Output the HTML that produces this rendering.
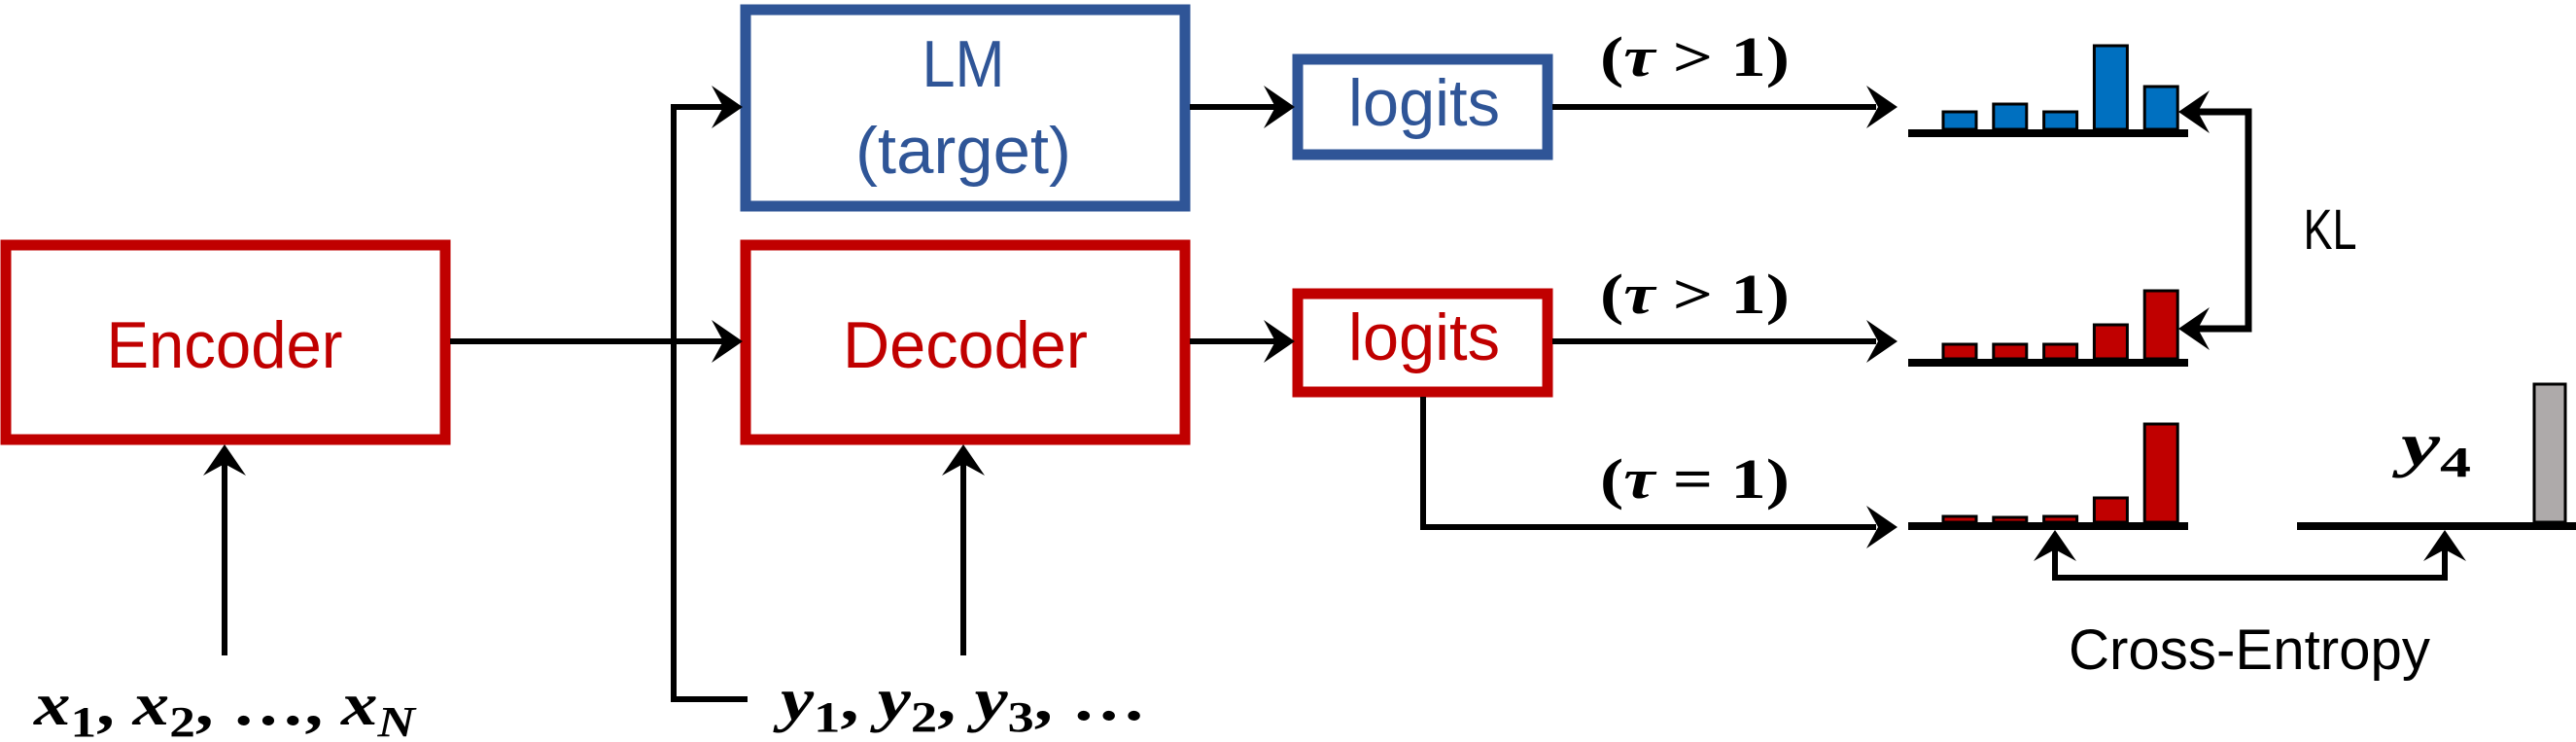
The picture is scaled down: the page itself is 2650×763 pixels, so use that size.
<!DOCTYPE html>
<html><head><meta charset="utf-8"><style>
html,body{margin:0;padding:0;background:#fff;}
svg{display:block;}
.cal{font-family:"Liberation Sans",sans-serif;}
.math{font-family:"Liberation Serif",serif;font-weight:bold;}
.it{font-style:italic;}
</style></head><body>
<svg id="fig" width="2650" height="763" viewBox="0 0 2650 763" xmlns="http://www.w3.org/2000/svg">
<g fill="none" stroke-width="11">
 <rect x="6" y="252" width="452" height="200" stroke="#c00000"/>
 <rect x="767" y="10" width="452" height="202" stroke="#2f5597"/>
 <rect x="767" y="252" width="452" height="200" stroke="#c00000"/>
 <rect x="1335" y="61" width="257" height="98" stroke="#2f5597"/>
 <rect x="1335" y="302" width="257" height="101" stroke="#c00000"/>
</g>
<g class="cal" text-anchor="middle">
 <text x="231" y="378" font-size="68" fill="#c00000" textLength="243" lengthAdjust="spacingAndGlyphs">Encoder</text>
 <text x="993" y="378" font-size="68" fill="#c00000" textLength="252" lengthAdjust="spacingAndGlyphs">Decoder</text>
 <text x="991" y="89" font-size="68" fill="#2f5597" textLength="85" lengthAdjust="spacingAndGlyphs">LM</text>
 <text x="991" y="178" font-size="68" fill="#2f5597" textLength="222" lengthAdjust="spacingAndGlyphs">(target)</text>
 <text x="1465" y="129" font-size="68" fill="#2f5597" textLength="156" lengthAdjust="spacingAndGlyphs">logits</text>
 <text x="1465" y="370" font-size="68" fill="#c00000" textLength="156" lengthAdjust="spacingAndGlyphs">logits</text>
 <text x="2397" y="256" font-size="58" fill="#000" textLength="55" lengthAdjust="spacingAndGlyphs">KL</text>
 <text x="2314" y="688" font-size="58" fill="#000" textLength="372" lengthAdjust="spacingAndGlyphs">Cross-Entropy</text>
</g>
<g class="math" fill="#000">
 <text x="1646" y="78" font-size="58" textLength="195" lengthAdjust="spacingAndGlyphs">(<tspan class="it">τ</tspan> &gt; 1)</text>
 <text x="1646" y="322" font-size="58" textLength="195" lengthAdjust="spacingAndGlyphs">(<tspan class="it">τ</tspan> &gt; 1)</text>
 <text x="1646" y="512" font-size="58" textLength="195" lengthAdjust="spacingAndGlyphs">(<tspan class="it">τ</tspan> = 1)</text>
 <text x="35" y="745" font-size="62" textLength="392" lengthAdjust="spacingAndGlyphs"><tspan class="it">x</tspan><tspan font-size="44" dy="12">1</tspan><tspan dy="-12">, </tspan><tspan class="it">x</tspan><tspan font-size="44" dy="12">2</tspan><tspan dy="-12">, …, </tspan><tspan class="it">x</tspan><tspan class="it" font-size="44" dy="12">N</tspan></text>
 <text x="803" y="740" font-size="62" textLength="376" lengthAdjust="spacingAndGlyphs"><tspan class="it">y</tspan><tspan font-size="44" dy="12">1</tspan><tspan dy="-12">, </tspan><tspan class="it">y</tspan><tspan font-size="44" dy="12">2</tspan><tspan dy="-12">, </tspan><tspan class="it">y</tspan><tspan font-size="44" dy="12">3</tspan><tspan dy="-12">, …</tspan></text>
 <text x="2470" y="478" font-size="62" textLength="72" lengthAdjust="spacingAndGlyphs"><tspan class="it">y</tspan><tspan font-size="44" dy="12">4</tspan></text>
</g>
<g fill="none" stroke="#000" stroke-width="6">
 <path d="M463 351 H745"/>
 <path d="M769 719 H693 V110 H745"/>
 <path d="M231 674 V475"/>
 <path d="M991 674 V475"/>
 <path d="M1224 110 H1312"/>
 <path d="M1224 351 H1312"/>
 <path d="M1597 110 H1930"/>
 <path d="M1597 351 H1930"/>
 <path d="M1464 408 V542 H1930"/>
 <path d="M2114 565 V594 H2515 V565"/>
</g>
<path d="M2258 115 H2313 V338 H2258" fill="none" stroke="#000" stroke-width="7"/>
<g id="arrows" fill="#000"></g>
<g id="charts"></g>
<line x1="2363" y1="541" x2="2650" y2="541" stroke="#000" stroke-width="8"/>
<rect x="2607" y="395" width="32" height="142" fill="#aeaaaa" stroke="#000" stroke-width="3"/>
</svg>
<script>
// Probability values for each distribution (5 vocabulary tokens)
const tokens = ["t1","t2","t3","t4","t5"];
const lmSoft = [18, 26, 18, 86, 44];
const decSoft = [15, 15, 15, 35, 70];
const decHard = [6, 5, 6, 25, 101];
const NS = "http://www.w3.org/2000/svg";
const charts = document.getElementById('charts');
const arrows = document.getElementById('arrows');
function xBar(i){ return 1999 + i * 51.8; }
function yScale(v, base){ return base - v; }
function drawChart(vals, baseY, fill, name){
  const g = document.createElementNS(NS,'g');
  
  
  vals.forEach((v,i)=>{
    const r = document.createElementNS(NS,'rect');
    const bottom = baseY - 4;
    r.setAttribute('x', xBar(i));
    r.setAttribute('y', yScale(v, bottom));
    r.setAttribute('width', 34);
    r.setAttribute('height', v);
    r.setAttribute('fill', fill);
    r.setAttribute('stroke', '#000');
    r.setAttribute('stroke-width', 3);
    
    
    g.appendChild(r);
  });
  const l = document.createElementNS(NS,'line');
  l.setAttribute('x1',1963); l.setAttribute('x2',2251);
  l.setAttribute('y1',baseY); l.setAttribute('y2',baseY);
  l.setAttribute('stroke','#000'); l.setAttribute('stroke-width',8);
  
  
  g.appendChild(l);
  charts.appendChild(g);
}
drawChart(lmSoft, 137, '#0070c0', 'lm-soft-chart');
drawChart(decSoft, 373, '#c00000', 'decoder-soft-chart');
drawChart(decHard, 541, '#c00000', 'decoder-hard-chart');
function arrow(x,y,dir,name){
  const L=32,W=22,N=12;
  let pts;
  if(dir==='r') pts=[[x,y],[x-L,y-W],[x-L+N,y],[x-L,y+W]];
  if(dir==='l') pts=[[x,y],[x+L,y-W],[x+L-N,y],[x+L,y+W]];
  if(dir==='u') pts=[[x,y],[x-W,y+L],[x,y+L-N],[x+W,y+L]];
  const p = document.createElementNS(NS,'polygon');
  p.setAttribute('points', pts.map(a=>a.join(',')).join(' '));
  
  
  arrows.appendChild(p);
}
arrow(764,351,'r','arrowhead-decoder');
arrow(764,110,'r','arrowhead-lm');
arrow(231,457,'u','arrowhead-encoder-input');
arrow(991,457,'u','arrowhead-decoder-input');
arrow(1332,110,'r','arrowhead-lm-logits');
arrow(1332,351,'r','arrowhead-decoder-logits');
arrow(1952,110,'r','arrowhead-lm-dist');
arrow(1952,351,'r','arrowhead-decoder-dist');
arrow(1952,542,'r','arrowhead-hard-dist');
arrow(2241,115,'l','arrowhead-kl-top');
arrow(2241,338,'l','arrowhead-kl-bottom');
arrow(2114,545,'u','arrowhead-ce-left');
arrow(2515,545,'u','arrowhead-ce-right');
</script>
</body></html>
